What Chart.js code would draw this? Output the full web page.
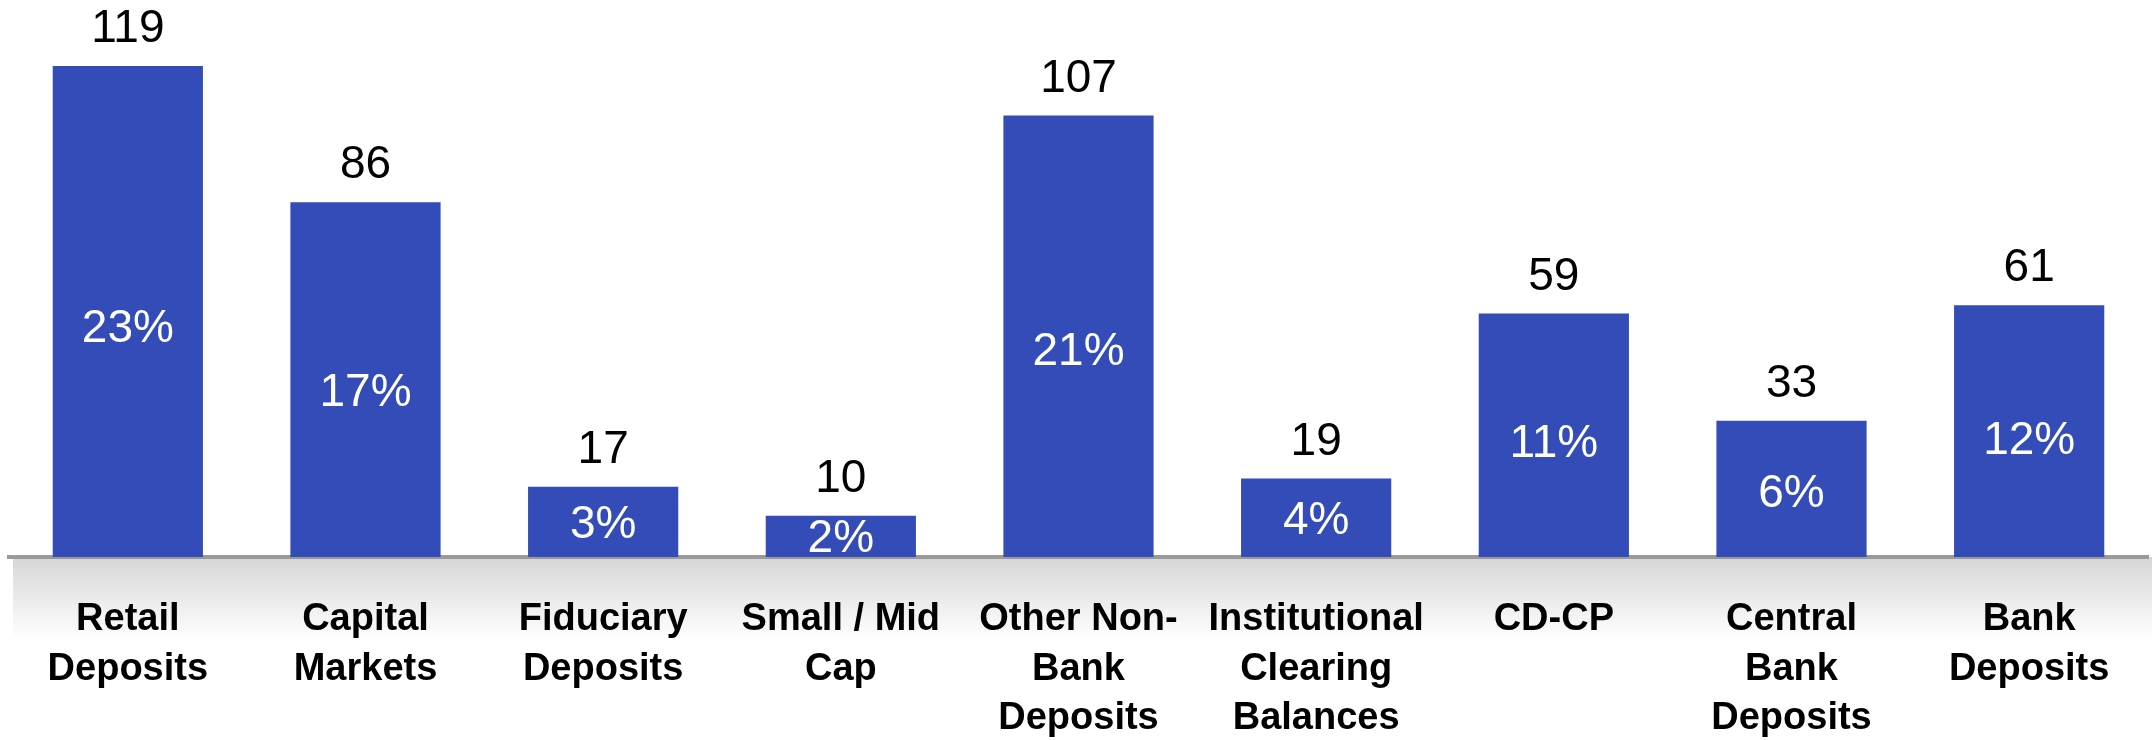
<!DOCTYPE html>
<html>
<head>
<meta charset="utf-8">
<script src="https://cdn.jsdelivr.net/npm/chart.js@4/dist/chart.umd.min.js"></script>
<style>
  html, body { margin: 0; padding: 0; background: #fff; }
  #wrap { width: 2152px; height: 740px; }
</style>
</head>
<body>
<div id="wrap"><canvas id="myChart" width="2152" height="740"></canvas></div>
<script>
// categories (line breaks as in the picture)
const categories = [
    ['Retail', 'Deposits'],
    ['Capital', 'Markets'],
    ['Fiduciary', 'Deposits'],
    ['Small / Mid', 'Cap'],
    ['Other Non-', 'Bank', 'Deposits'],
    ['Institutional', 'Clearing', 'Balances'],
    ['CD-CP'],
    ['Central', 'Bank', 'Deposits'],
    ['Bank', 'Deposits']
];
const amounts = [119, 86, 17, 10, 107, 19, 59, 33, 61];
const shares = [23, 17, 3, 2, 21, 4, 11, 6, 12];

const barColor = '#334cb7';

// grey band under the axis, plus the numbers on / above each bar
const decorate = {
    id: 'decorate',
    beforeDraw(chart) {
        const ctx = chart.ctx;
        const area = chart.chartArea;
        const g = ctx.createLinearGradient(0, area.bottom, 0, area.bottom + 82);
        g.addColorStop(0, '#d6d6d6');
        g.addColorStop(1, '#ffffff');
        ctx.save();
        ctx.fillStyle = g;
        ctx.fillRect(area.left + 4, area.bottom, chart.width - area.left - 4, 82);
        ctx.restore();
    },
    afterDatasetsDraw(chart) {
        const ctx = chart.ctx;
        const meta = chart.getDatasetMeta(0);
        ctx.save();
        ctx.textAlign = 'center';
        meta.data.forEach((bar, i) => {
            ctx.font = '46px "Liberation Sans", Arial, sans-serif';
            ctx.fillStyle = '#000';
            ctx.textBaseline = 'alphabetic';
            ctx.fillText(String(amounts[i]), bar.x, bar.y - 24);
            const mid = bar.y + (bar.base - bar.y) * 0.535;
            ctx.fillStyle = '#fff';
            ctx.textBaseline = 'middle';
            ctx.fillText(shares[i] + '%', bar.x, mid + 1);
        });
        ctx.restore();
    }
};

const data = {
    labels: categories,
    datasets: [{
        data: amounts,
        backgroundColor: barColor,
        borderWidth: 0,
        categoryPercentage: 1,
        barPercentage: 0.632
    }]
};

const config = {
    type: 'bar',
    data: data,
    options: {
        responsive: false,
        animation: false,
        layout: { padding: { left: 9, right: 4, top: 0, bottom: 0 } },
        plugins: {
            legend: { display: false },
            tooltip: { enabled: false }
        },
        scales: {
            x: {
                grid: { display: false, drawTicks: false },
                border: { display: true, color: '#9a9a9a', width: 4 },
                ticks: {
                    color: '#000',
                    font: { family: '"Liberation Sans", Arial, sans-serif', size: 38, weight: 'bold', lineHeight: 1.3 },
                    padding: 38,
                    maxRotation: 0,
                    autoSkip: false
                },
                afterFit(scale) { scale.height = 183; }
            },
            y: {
                display: false,
                min: 0,
                max: 135
            }
        }
    },
    plugins: [decorate]
};

const myChart = new Chart(document.getElementById('myChart'), config);
</script>
</body>
</html>
